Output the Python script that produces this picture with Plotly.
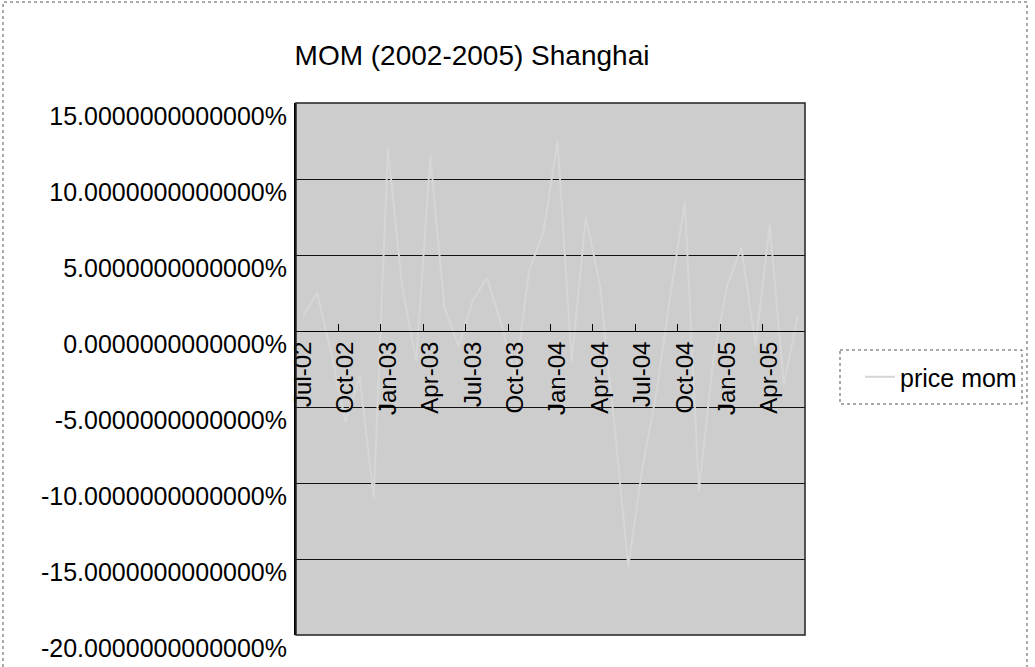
import plotly.graph_objects as go

# Month-on-month price change, Shanghai, Jul-2002 .. Jun-2005
months = [
    "Jul-02", "Aug-02", "Sep-02", "Oct-02", "Nov-02", "Dec-02",
    "Jan-03", "Feb-03", "Mar-03", "Apr-03", "May-03", "Jun-03",
    "Jul-03", "Aug-03", "Sep-03", "Oct-03", "Nov-03", "Dec-03",
    "Jan-04", "Feb-04", "Mar-04", "Apr-04", "May-04", "Jun-04",
    "Jul-04", "Aug-04", "Sep-04", "Oct-04", "Nov-04", "Dec-04",
    "Jan-05", "Feb-05", "Mar-05", "Apr-05", "May-05", "Jun-05",
]
price_mom = [
    0.010, 0.025, -0.015, -0.060, -0.030, -0.110,
    0.120, 0.030, -0.020, 0.115, 0.015, -0.010,
    0.020, 0.035, 0.005, -0.030, 0.040, 0.065,
    0.125, -0.020, 0.075, 0.030, -0.060, -0.155,
    -0.090, -0.040, 0.025, 0.085, -0.105, -0.020,
    0.030, 0.055, -0.010, 0.070, -0.035, 0.010,
]
y_tickvals = [0.15, 0.10, 0.05, 0.0, -0.05, -0.10, -0.15, -0.20]
y_ticktext = [
    "15.0000000000000%", "10.0000000000000%", "5.0000000000000%",
    "0.0000000000000%", "-5.0000000000000%", "-10.0000000000000%",
    "-15.0000000000000%", "-20.0000000000000%",
]

W, H = 1035, 667
L, R, T, B = 296, 230, 103, 32
PW, PH = W - L - R, H - T - B
Y_MIN, Y_MAX = -0.20, 0.15
FONT = "Liberation Sans, Arial, sans-serif"


def px_x(p):
    return (p - L) / PW


def px_y(p):
    return (H - B - p) / PH


fig = go.Figure()
fig.add_trace(go.Scatter(
    x=months, y=price_mom, mode="lines", name="price mom",
    line=dict(color="#d6d6d6", width=2),
))

fig.update_layout(
    width=W, height=H,
    margin=dict(l=L, r=R, t=T, b=B, pad=0, autoexpand=False),
    paper_bgcolor="white",
    plot_bgcolor="#cdcdcd",
    font=dict(family=FONT, size=25, color="black"),
    title=dict(
        text="MOM (2002-2005) Shanghai",
        x=472 / W, xanchor="center", xref="container",
        y=1 - 55 / H, yanchor="middle", yref="container",
        font=dict(family=FONT, size=28, color="black"),
    ),
    showlegend=True,
    legend=dict(
        xref="container", yref="container",
        x=860 / W, xanchor="left",
        y=1 - 377 / H, yanchor="middle",
        bgcolor="rgba(0,0,0,0)", borderwidth=0,
        font=dict(family=FONT, size=25, color="black"),
    ),
    xaxis=dict(
        type="category",
        categoryorder="array", categoryarray=months,
        range=[-0.5, len(months) - 0.5],
        anchor="free", position=(0 - Y_MIN) / (Y_MAX - Y_MIN),
        automargin=False,
        showline=True, linecolor="black", linewidth=1,
        showgrid=False, zeroline=False,
        tickmode="linear", tick0=0, dtick=3,
        tickson="boundaries",
        ticks="inside", ticklen=7, tickcolor="black", tickwidth=1,
        tickangle=-90,
        tickfont=dict(family=FONT, size=24, color="black"),
    ),
    yaxis=dict(
        range=[Y_MIN, Y_MAX],
        automargin=False,
        tickmode="array", tickvals=y_tickvals, ticktext=y_ticktext,
        showgrid=True, gridcolor="#111111", gridwidth=1,
        zeroline=False,
        showline=True, linecolor="black", linewidth=2,
        ticks="", ticklabelshift=13, ticklabelstandoff=2,
        tickfont=dict(family=FONT, size=25, color="black"),
    ),
    shapes=[
        # plot area frame
        dict(type="rect", xref="paper", yref="paper", x0=0, x1=1, y0=0, y1=1,
             line=dict(color="#222222", width=1.5), layer="above"),
        # legend frame
        dict(type="rect", xref="paper", yref="paper",
             x0=px_x(840), x1=px_x(1022), y0=px_y(350), y1=px_y(404),
             line=dict(color="#555555", width=1, dash="dot")),
        # chart border
        dict(type="rect", xref="paper", yref="paper",
             x0=px_x(3), x1=px_x(1027), y0=px_y(700), y1=px_y(2),
             line=dict(color="#555555", width=1, dash="dot")),
    ],
)

fig.write_html("out.html")
